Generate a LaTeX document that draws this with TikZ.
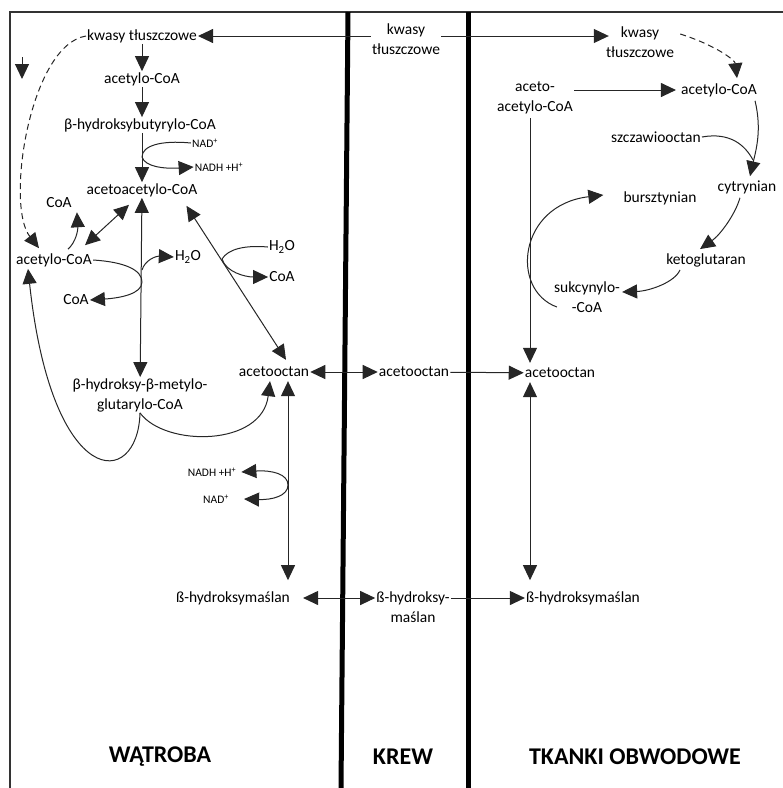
\documentclass[tikz,border=0pt]{standalone}
\usepackage{fontspec}
\setmainfont{Carlito}
\usetikzlibrary{arrows.meta,calc,positioning}

\begin{document}
\begin{tikzpicture}[x=1pt,y=-1pt,
	txt/.style={font=\fontsize{15.5}{20}\selectfont,inner sep=1pt,align=center},
	small/.style={font=\fontsize{11.5}{13}\selectfont,inner sep=1pt},
	big/.style={font=\fontsize{24}{28}\selectfont\bfseries,inner sep=1pt},
	conn/.style={line width=1pt,black!85},
	tip/.style={-{Triangle[length=15pt,width=14pt]}},
	tips/.style={{Triangle[length=15pt,width=14pt]}-{Triangle[length=15pt,width=14pt]}},
	dash6/.style={dash pattern=on 6pt off 4pt},
	wall/.style={line width=5pt},
	frame/.style={line width=1.5pt,black!80}]
	\useasboundingbox (0,0) rectangle (783,788);
	\draw[frame] (10,788) -- (10,12) -- (783,12);
	\draw[wall] (348,12) -- (341,788);
	\draw[wall] (468,12) -- (468,788);

	% watroba
	\node[txt] (kt1) at (142,36) {kwasy tłuszczowe};
	\node[txt] (ac1) at (142,79) {acetylo-CoA};
	\node[txt] (hb) at (140,125) {β-hydroksybutyrylo-CoA};
	\node[small] (nad1) at (205,143) {NAD\textsuperscript{+}};
	\node[small] (nadh1) at (219,167) {NADH +H\textsuperscript{+}};
	\node[txt] (aac) at (142,190) {acetoacetylo-CoA};
	\node[txt] (coa1) at (59,203) {CoA};
	\node[txt] (ac2) at (54,260) {acetylo-CoA};
	\node[txt] (h2o1) at (188,257) {H\textsubscript{2}O};
	\node[txt] (coa2) at (76,300) {CoA};
	\node[txt] (h2o2) at (282,247) {H\textsubscript{2}O};
	\node[txt] (coa3) at (282,277) {CoA};
	\node[txt] (hmg) at (140,395) {β-hydroksy-β-metylo-\\glutarylo-CoA};
	\node[txt] (aoL) at (274,372) {acetooctan};
	\node[small] (nadh2) at (212,472) {NADH +H\textsuperscript{+}};
	\node[small] (nad2) at (216,499) {NAD\textsuperscript{+}};
	\node[txt] (hbL) at (233,598) {ß-hydroksymaślan};

	% krew
	\node[txt] (kt2) at (406,39) {kwasy\\tłuszczowe};
	\node[txt] (aoB) at (414,372) {acetooctan};
	\node[txt] (hbB) at (413,607) {ß-hydroksy-\\maślan};

	% tkanki
	\node[txt] (kt3) at (640,42) {kwasy\\tłuszczowe};
	\node[txt] (aacT) at (535,98) {aceto-\\acetylo-CoA};
	\node[txt] (ac3) at (719,90) {acetylo-CoA};
	\node[txt] (szcz) at (656,137) {szczawiooctan};
	\node[txt] (cyt) at (747,187) {cytrynian};
	\node[txt] (bur) at (660,198) {bursztynian};
	\node[txt] (keto) at (706,260) {ketoglutaran};
	\node[txt] (suk) at (587,297) {sukcynylo-\\-CoA};
	\node[txt] (aoT) at (560,373) {acetooctan};
	\node[txt] (hbT) at (583,598) {ß-hydroksymaślan};

	\node[big] (lbl1) at (160,757) {WĄTROBA};
	\node[big] (lbl2) at (403,757) {KREW};
	\node[big] (lbl3) at (635,757) {TKANKI OBWODOWE};

	\coordinate (tkA) at (22,57);
	\coordinate (tkB) at (22,79);
	\coordinate (j1) at (142,157);
	\coordinate (j2) at (142,282);
	\coordinate (j3) at (142,270);
	\coordinate (j4) at (222,259);
	\coordinate (j5) at (288,485);
	\coordinate (j6) at (753,160);

	\draw[conn,tip] (kt2.west |- kt1.east) -- (kt1.east);
	\draw[conn,tip] (kt2.east |- kt1.east) -- ($(kt3.west |- kt1.east)+(4,0)$);
	\draw[conn,tip] (kt1) -- (ac1);
	\draw[conn,tip] (ac1) -- (aac.north |- hb.north);
	\draw[conn,tip] (aac.north |- hb.south) -- (aac);
	\draw[conn] (nad1.west) .. controls (160,140) and (142,146) .. (j1);
	\draw[conn,tip] (j1) .. controls (145,167) and (165,169) .. (nadh1.west);
	\draw[conn,dash6,tip] (kt1.west) .. controls (30,45) and (5,205) .. ($(ac2.north)+(-15,-4)$);
	\draw[conn,tip] (tkA) -- (tkB);
	\draw[conn,tips] ($(ac2.north east)+(-8,-7)$) -- ($(aac.south)+(-13,7)$);
	\draw[conn,tip] ($(ac2.north)+(14,-3)$) .. controls (76,242) and (78,230) .. ($(coa1.south east)+(4,3)$);
	\draw[conn,tips] (aac) -- (hmg);
	\draw[conn] (ac2.east) .. controls (125,262) and (142,270) .. (j2);
	\draw[conn,tip] (j2) .. controls (142,294) and (120,298) .. (coa2.east);
	\draw[conn,tip] (j3) .. controls (145,260) and (156,256) .. (h2o1.west);
	\draw[conn,tips] ($(aac.south east)+(-12,8)$) -- ($(aoL.north)+(12,-6)$);
	\draw[conn] (h2o2.west) .. controls (245,245) and (228,249) .. (j4);
	\draw[conn,tip] (j4) .. controls (226,272) and (245,277) .. (coa3.west);
	\draw[conn,tip] (hmg.south) .. controls (165,447) and (262,447) .. ($(aoL.south)+(-4,3)$);
	\draw[conn,tip] (hmg.south) .. controls (138,490) and (52,492) .. ($(ac2.south)+(-26,1)$);
	\draw[conn,tips] ($(aoL.south)+(14,3)$) -- ($(hbL.north)+(55,-10)$);
	\draw[conn,tip] (j5) .. controls (288,474) and (272,470) .. ($(nadh2.east)+(4,0)$);
	\draw[conn,tip] (j5) .. controls (288,496) and (272,500) .. ($(nad2.east)+(14,0)$);
	\draw[conn,tips] (aoL) -- (aoB);
	\draw[conn,tip] (aoB) -- (aoT);
	\draw[conn,tips] ($(hbL.east)+(12,0)$) -- (hbL.east -| hbB.west);
	\draw[conn,tip] (hbL.east -| hbB.east) -- (hbT.west);
	\draw[conn,tip] (aacT.east |- ac3) -- ($(ac3.west)+(-4,0)$);
	\draw[conn,tip] ($(aacT.south)+(-5,3)$) -- ($(aoT.north)+(-30,-4)$);
	\draw[conn,tips] ($(aoT.south)+(-30,3)$) -- ($(hbT.north)+(-53,-10)$);
	\draw[conn,dash6,tip] ($(kt3.east)+(5,-8)$) .. controls (715,45) and (735,60) .. ($(ac3.north)+(18,-4)$);
	\draw[conn,tip] ($(ac3.south east)+(-3,3)$) .. controls (762,130) and (756,150) .. ($(cyt.north)+(3,-3)$);
	\draw[conn] (szcz.east) .. controls (730,132) and (745,145) .. (j6);
	\draw[conn,tip] ($(cyt.south)+(-7,3)$) .. controls (735,215) and (720,235) .. ($(keto.north)+(-6,-3)$);
	\draw[conn,tip] ($(keto.south)+(-26,2)$) .. controls (675,282) and (650,291) .. ($(suk.east)+(1,-5)$);
	\draw[conn,tip] ($(suk.west)+(4,10)$) .. controls (510,290) and (518,205) .. ($(bur.west)+(-19,-3)$);
\end{tikzpicture}
\end{document}
